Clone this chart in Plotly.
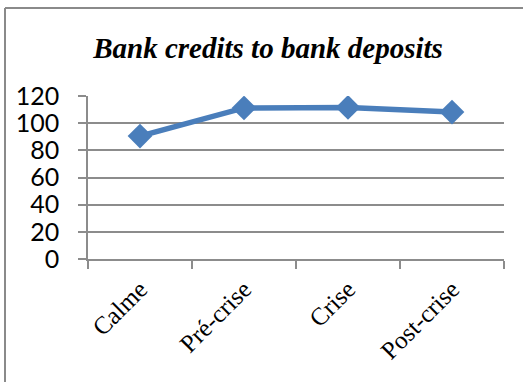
import plotly.graph_objects as go

# Ratio of bank credits to bank deposits by period
periods = ["Calme", "Pré-crise", "Crise", "Post-crise"]
ratio = [90.5, 111.2, 111.6, 108.2]
y_ticks = [0, 20, 40, 60, 80, 100, 120]

W, H = 523, 382
ml, mr, mt, mb = 88, 19, 96, 123
pw, ph = W - ml - mr, H - mt - mb

fig = go.Figure(
    go.Scatter(
        x=periods,
        y=ratio,
        mode="lines+markers",
        line=dict(color="#4a7ebb", width=5.5),
        marker=dict(symbol="diamond", size=19, color="#4a7ebb"),
        hoverinfo="x+y",
    )
)

grid = "#8c8c8c"

# outer chart-area frame (left and top edges visible)
def px_x(p):
    return (p - ml) / pw

def px_y(p):
    return (H - mb - p) / ph

frame = dict(type="line", xref="paper", yref="paper",
             line=dict(color="#8a8a8a", width=2))
fig.add_shape(**frame, x0=px_x(5), y0=px_y(8), x1=px_x(540), y1=px_y(8))
fig.add_shape(**frame, x0=px_x(5), y0=px_y(8), x1=px_x(5), y1=px_y(400))

fig.update_layout(
    width=W,
    height=H,
    margin=dict(l=ml, r=mr, t=mt, b=mb),
    paper_bgcolor="white",
    plot_bgcolor="white",
    showlegend=False,
    title=dict(
        text="<b><i>Bank credits to bank deposits</i></b>",
        font=dict(family="Liberation Serif", size=29, color="black"),
        x=268 / W,
        xanchor="center",
        xref="container",
        y=1 - 48 / H,
        yanchor="middle",
        yref="container",
    ),
    xaxis=dict(
        type="category",
        tickson="boundaries",
        ticks="outside",
        ticklen=8,
        tickwidth=1.5,
        tickcolor=grid,
        showline=True,
        linecolor=grid,
        linewidth=1.5,
        showgrid=False,
        tickangle=-45,
        ticklabelstandoff=4,
        tickfont=dict(family="Liberation Serif", size=25, color="black"),
        range=[-0.5, 3.5],
    ),
    yaxis=dict(
        range=[0, 120],
        tickvals=y_ticks,
        ticks="outside",
        ticklen=8,
        tickwidth=1.5,
        tickcolor=grid,
        showline=True,
        linecolor=grid,
        linewidth=1.5,
        showgrid=True,
        gridcolor=grid,
        gridwidth=1.5,
        zeroline=False,
        ticklabelstandoff=14,
        tickfont=dict(family="Lato", size=25, color="black"),
    ),
)

fig.write_html("out.html")
